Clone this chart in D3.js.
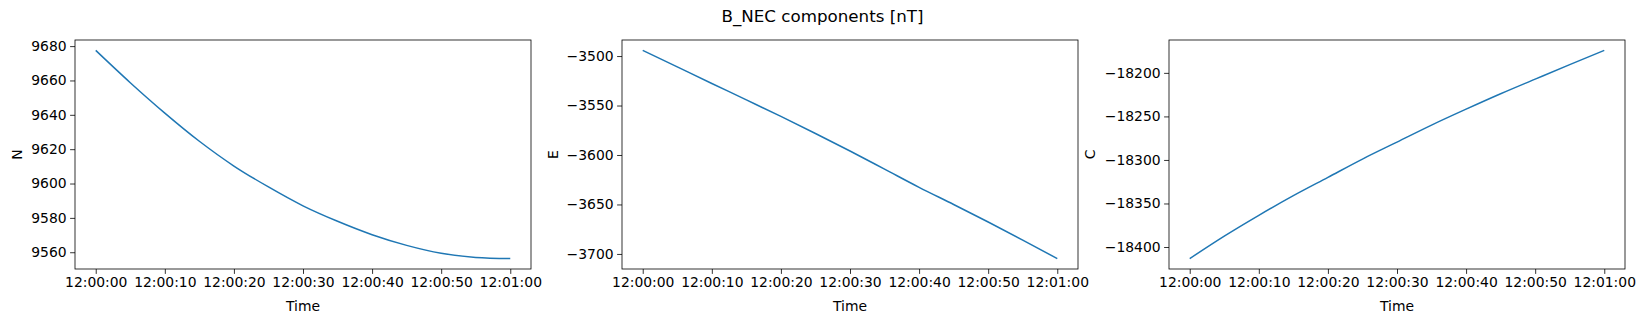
<!DOCTYPE html>
<html>
<head>
<meta charset="utf-8">
<script src="https://cdn.jsdelivr.net/npm/d3@7"></script>
<style>
  body { margin: 0; background: #fff; }
  svg { display: block; font-family: "DejaVu Sans", sans-serif; }
</style>
</head>
<body>
<svg id="chart"></svg>
<script>
// seconds after 12:00:00
const seconds = [0, 5, 10, 15, 20, 25, 30, 35, 40, 45, 50, 55, 60];
const nVals = [9677.5, 9658.7, 9641.0, 9624.6, 9610.2, 9598.0, 9587.0, 9578.0, 9570.2, 9564.0, 9559.4, 9557.0, 9556.3];
const eVals = [-3494.3, -3511.0, -3527.7, -3544.3, -3561.0, -3578.3, -3596.0, -3614.3, -3632.7, -3650.0, -3667.7, -3686.0, -3704.7];
const cVals = [-18413.3, -18387.5, -18363.6, -18341.0, -18320.0, -18299.0, -18279.5, -18260.0, -18241.7, -18224.0, -18207.2, -18190.5, -18174.2];
const nTicks = [9560, 9580, 9600, 9620, 9640, 9660, 9680];
const eTicks = [-3700, -3650, -3600, -3550, -3500];
const cTicks = [-18400, -18350, -18300, -18250, -18200];
const timeTicks = [0, 10, 20, 30, 40, 50, 60];
const panelNames = ['N', 'E', 'C'];
const titleText = 'B_NEC components [nT]';

const svgW = 1645, svgH = 324;
const panelW = 456, plotTop = 40, plotBottom = 269;
const lefts = [75, 622, 1169];
const labelOffs = [58, 69, 79];

const t0 = new Date(2024, 0, 1, 12, 0, 0);
const toDate = (s) => new Date(t0.getTime() + s * 1000);
const fmt = d3.timeFormat('%H:%M:%S');
const minusFmt = (v) => String(v).replace('-', '\u2212');

const svg = d3.select('#chart').attr('width', svgW).attr('height', svgH);

svg.append('text')
    .attr('x', svgW / 2)
    .attr('y', 22)
    .attr('text-anchor', 'middle')
    .attr('font-size', 16.7)
    .text(titleText);

const series = [nVals, eVals, cVals];
const ticksList = [nTicks, eTicks, cTicks];

series.forEach((vals, i) => {
    const x0 = lefts[i];
    const data = seconds.map((s, j) => ({ t: toDate(s), v: vals[j] }));

    const xScale = d3.scaleTime()
        .domain([toDate(-3), toDate(63)])
        .range([x0, x0 + panelW]);

    const [lo, hi] = d3.extent(vals);
    const pad = (hi - lo) * 0.05;
    const yScale = d3.scaleLinear()
        .domain([lo - pad, hi + pad])
        .range([plotBottom, plotTop]);

    const g = svg.append('g');

    // line
    g.append('path')
        .datum(data)
        .attr('fill', 'none')
        .attr('stroke', '#1f77b4')
        .attr('stroke-width', 1.5)
        .attr('d', d3.line()
            .curve(d3.curveMonotoneX)
            .x((d) => xScale(d.t))
            .y((d) => yScale(d.v)));

    // x axis
    const xAxis = d3.axisBottom(xScale)
        .tickValues(timeTicks.map(toDate))
        .tickFormat(fmt)
        .tickSize(4.9)
        .tickPadding(3.5);
    g.append('g')
        .attr('transform', `translate(0,${plotBottom})`)
        .call(xAxis)
        .call((a) => a.select('.domain').remove())
        .call((a) => a.selectAll('line').attr('stroke', '#000').attr('stroke-width', 0.8))
        .call((a) => a.selectAll('text').attr('font-size', 13.9).attr('fill', '#000')
            .attr('font-family', '"DejaVu Sans", sans-serif'));

    // y axis
    const yAxis = d3.axisLeft(yScale)
        .tickValues(ticksList[i])
        .tickFormat(minusFmt)
        .tickSize(4.9)
        .tickPadding(3.5);
    g.append('g')
        .attr('transform', `translate(${x0},0)`)
        .call(yAxis)
        .call((a) => a.select('.domain').remove())
        .call((a) => a.selectAll('line').attr('stroke', '#000').attr('stroke-width', 0.8))
        .call((a) => a.selectAll('text').attr('font-size', 13.9).attr('fill', '#000')
            .attr('font-family', '"DejaVu Sans", sans-serif'));

    // frame
    g.append('rect')
        .attr('x', x0)
        .attr('y', plotTop)
        .attr('width', panelW)
        .attr('height', plotBottom - plotTop)
        .attr('fill', 'none')
        .attr('stroke', '#000')
        .attr('stroke-width', 0.8);

    // axis labels
    g.append('text')
        .attr('x', x0 + panelW / 2)
        .attr('y', 311)
        .attr('text-anchor', 'middle')
        .attr('font-size', 13.9)
        .text('Time');

    g.append('text')
        .attr('transform', `translate(${x0 - labelOffs[i] + 5},${(plotTop + plotBottom) / 2}) rotate(-90)`)
        .attr('text-anchor', 'middle')
        .attr('font-size', 13.9)
        .text(panelNames[i]);
});
</script>
</body>
</html>
